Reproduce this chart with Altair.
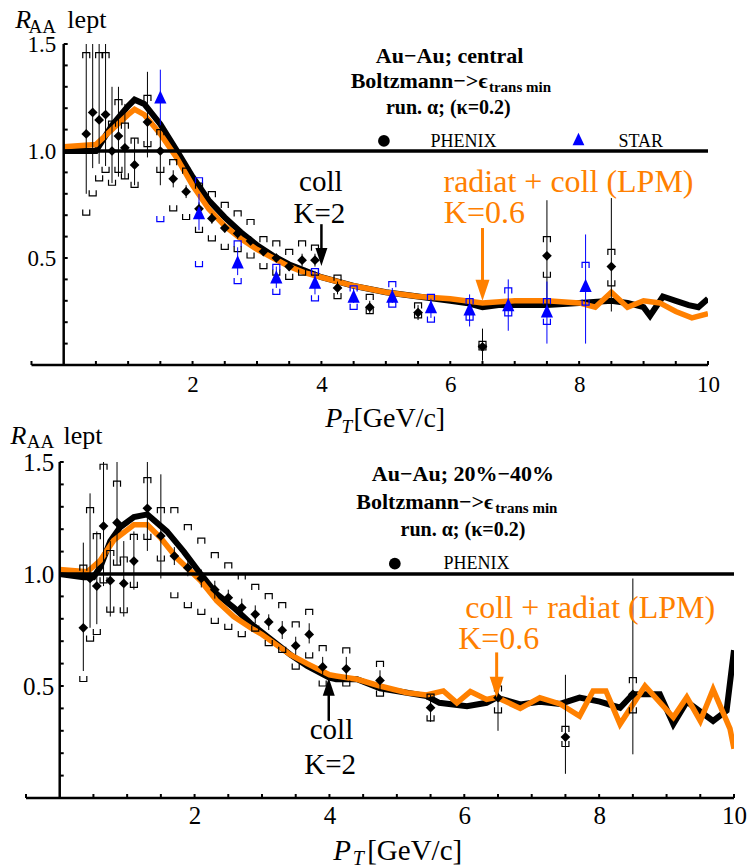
import altair as alt
import pandas as pd

SERIF = "Liberation Serif, Tinos, Times New Roman, Times, DejaVu Serif, serif"
ORANGE = "#FF8000"
BLUE = "#0000FF"

# ---------------- axes ----------------
X_TICKS = [-0.5, 0.5, 1.0, 1.5, 2.0, 2.5, 3.0, 3.5, 4.0, 4.5, 5.0, 5.5, 6.0, 6.5, 7.0,
           7.5, 8.0, 8.5, 9.0, 9.5, 10.0]
X_LABELS = [2, 4, 6, 8, 10]
Y_TICKS = [0.1, 0.2, 0.3, 0.4, 0.5, 0.6, 0.7, 0.8, 0.9, 1.0, 1.1, 1.2, 1.3, 1.4, 1.5]
Y_LABELS = [0.5, 1.0, 1.5]

# ---------------- top panel: Au-Au central ----------------
TOP_BLACK_X = [0.0, 0.5, 0.75, 1.0, 1.1, 1.25, 1.5, 1.76, 2.0, 2.25, 2.5, 2.75, 3.0, 3.25,
               3.5, 3.75, 4.0, 4.5, 5.0, 5.5, 6.0, 6.25, 6.5, 6.75, 7.0, 7.5, 8.0, 8.5,
               8.75, 9.0, 9.1, 9.3, 9.5, 9.7, 9.85, 10.0]
TOP_BLACK_Y = [1.0, 1.0, 1.12, 1.21, 1.24, 1.22, 1.125, 1.0, 0.88, 0.77, 0.69, 0.62, 0.56,
               0.51, 0.47, 0.44, 0.41, 0.37, 0.34, 0.32, 0.30, 0.29, 0.27, 0.28, 0.28, 0.28,
               0.29, 0.30, 0.29, 0.27, 0.23, 0.32, 0.30, 0.28, 0.27, 0.31]
TOP_ORANGE_X = [0.0, 0.5, 0.75, 1.0, 1.1, 1.25, 1.5, 1.75, 2.0, 2.25, 2.5, 2.75, 3.0, 3.25,
                3.5, 3.75, 4.0, 4.5, 5.0, 5.5, 6.0, 6.5, 7.0, 7.5, 8.0, 8.25, 8.5, 8.75,
                9.0, 9.25, 9.5, 9.75, 10.0]
TOP_ORANGE_Y = [1.02, 1.03, 1.10, 1.17, 1.195, 1.17, 1.08, 0.97, 0.84, 0.73, 0.65, 0.59,
                0.54, 0.50, 0.46, 0.43, 0.41, 0.37, 0.34, 0.32, 0.31, 0.29, 0.30, 0.30, 0.29,
                0.27, 0.34, 0.27, 0.30, 0.29, 0.25, 0.22, 0.24]

PHENIX_X = [0.35, 0.45, 0.55, 0.65, 0.75, 0.85, 0.95, 1.1, 1.3, 1.5, 1.7, 1.9, 2.1, 2.3,
            2.5, 2.7, 2.9, 3.1, 3.3, 3.5, 3.7, 3.9, 4.25, 4.75, 5.5, 6.5, 7.5, 8.5]
TOP_PHENIX_Y = [1.08, 1.18, 1.145, 1.17, 1.0, 1.07, 1.015, 0.935, 1.135, 1.0, 0.87, 0.81,
                0.73, 0.685, 0.64, 0.615, 0.58, 0.53, 0.50, 0.46, 0.49, 0.49, 0.36, 0.27,
                0.245, 0.085, 0.51, 0.46]
TOP_PHENIX_STAT_LO = [0.80, 0.92, 0.94, 0.93, 0.85, 0.88, 0.87, 0.84, 0.97, 0.84, 0.83, 0.78,
                      0.70, 0.66, 0.62, 0.59, 0.56, 0.51, 0.48, 0.44, 0.46, 0.46, 0.33, 0.24,
                      0.21, 0.02, 0.28, 0.25]
TOP_PHENIX_STAT_HI = [1.5, 1.5, 1.5, 1.5, 1.30, 1.30, 1.22, 1.06, 1.37, 1.14, 0.91, 0.84,
                      0.76, 0.71, 0.66, 0.64, 0.60, 0.55, 0.52, 0.48, 0.52, 0.52, 0.39, 0.30,
                      0.28, 0.17, 0.77, 0.78]
TOP_PHENIX_SYS_LO = [0.70, 0.79, 0.86, 0.90, 0.84, 0.90, 0.87, 0.83, 1.02, 0.90, 0.72, 0.68,
                     0.62, 0.58, 0.54, 0.53, 0.50, 0.45, 0.42, 0.40, 0.42, 0.42, 0.31, 0.24,
                     0.22, 0.07, 0.41, 0.37]
TOP_PHENIX_SYS_HI = [1.46, 1.57, 1.46, 1.46, 1.14, 1.24, 1.13, 1.06, 1.26, 1.10, 0.96, 0.92,
                     0.85, 0.81, 0.76, 0.72, 0.68, 0.60, 0.58, 0.54, 0.58, 0.56, 0.42, 0.33,
                     0.29, 0.11, 0.60, 0.54]

STAR_X = [1.5, 2.1, 2.7, 3.3, 3.9, 4.5, 5.1, 5.7, 6.3, 6.9, 7.5, 8.1]
STAR_Y = [1.25, 0.71, 0.48, 0.41, 0.385, 0.32, 0.32, 0.27, 0.26, 0.28, 0.25, 0.37]
STAR_STAT_LO = [1.12, 0.63, 0.42, 0.36, 0.33, 0.29, 0.29, 0.22, 0.18, 0.16, 0.10, 0.10]
STAR_STAT_HI = [1.38, 0.80, 0.55, 0.46, 0.44, 0.36, 0.36, 0.31, 0.33, 0.40, 0.39, 0.61]
STAR_SYS_LO = [0.67, 0.46, 0.38, 0.33, 0.30, 0.26, 0.27, 0.20, 0.21, 0.23, 0.19, 0.28]
STAR_SYS_HI = [1.55, 0.875, 0.58, 0.47, 0.45, 0.37, 0.39, 0.33, 0.31, 0.36, 0.31, 0.48]

# ---------------- bottom panel: Au-Au 20%-40% ----------------
BOT_BLACK_X = [0.0, 0.35, 0.5, 0.6, 0.75, 0.9, 1.1, 1.3, 1.59, 1.84, 2.09, 2.33, 2.58, 2.83,
               3.0, 3.42, 3.67, 4.0, 4.1, 4.41, 4.75, 5.15, 5.44, 5.63, 6.04, 6.33, 6.48,
               6.83, 7.12, 7.42, 7.71, 8.01, 8.31, 8.5, 8.9, 9.1, 9.3, 9.69, 9.89, 10.0]
BOT_BLACK_Y = [1.0, 0.985, 0.985, 1.03, 1.147, 1.21, 1.254, 1.266, 1.19, 1.10, 1.0, 0.91,
               0.85, 0.78, 0.74, 0.64, 0.59, 0.537, 0.53, 0.53, 0.49, 0.47, 0.455, 0.425,
               0.41, 0.425, 0.448, 0.418, 0.43, 0.42, 0.448, 0.43, 0.403, 0.463, 0.463, 0.33,
               0.43, 0.344, 0.39, 0.66]
BOT_ORANGE_X = [0.0, 0.41, 0.6, 0.8, 1.1, 1.3, 1.5, 1.74, 2.09, 2.33, 2.58, 2.83, 3.0, 3.42,
                3.67, 4.0, 4.1, 4.41, 4.75, 5.15, 5.44, 5.69, 5.89, 6.09, 6.33, 6.48, 6.83,
                7.12, 7.42, 7.71, 7.91, 8.1, 8.31, 8.68, 9.1, 9.3, 9.5, 9.69, 9.94, 10.0]
BOT_ORANGE_Y = [1.02, 1.01, 1.06, 1.15, 1.22, 1.22, 1.16, 1.07, 0.97, 0.88, 0.81, 0.76, 0.73,
                0.64, 0.60, 0.55, 0.545, 0.53, 0.50, 0.47, 0.46, 0.478, 0.425, 0.475, 0.44,
                0.45, 0.40, 0.448, 0.42, 0.366, 0.478, 0.478, 0.33, 0.50, 0.36, 0.45, 0.344,
                0.485, 0.31, 0.22]
BOT_PHENIX_Y = [0.76, 0.98, 0.946, 1.214, 0.97, 1.229, 0.958, 1.058, 1.293, 1.17, 1.08,
                1.028, 0.98, 0.93, 0.894, 0.85, 0.82, 0.786, 0.749, 0.68, 0.73, 0.585, 0.577,
                0.525, 0.403, 0.448, 0.272, 0.463]
BOT_PHENIX_STAT_LO = [0.567, 0.76, 0.776, 0.946, 0.81, 1.04, 0.81, 0.93, 1.103, 0.98, 1.04,
                      0.99, 0.94, 0.89, 0.86, 0.81, 0.78, 0.75, 0.71, 0.64, 0.69, 0.55, 0.53,
                      0.48, 0.34, 0.30, 0.108, 0.195]
BOT_PHENIX_STAT_HI = [1.14, 1.36, 1.19, 1.5, 1.147, 1.5, 1.147, 1.19, 1.5, 1.445, 1.12, 1.07,
                      1.02, 0.97, 0.93, 0.89, 0.86, 0.82, 0.79, 0.72, 0.78, 0.63, 0.63, 0.57,
                      0.46, 0.52, 0.55, 0.98]
BOT_PHENIX_SYS_LO = [0.52, 0.70, 0.73, 0.96, 0.83, 1.04, 0.827, 0.94, 1.155, 1.058, 0.894,
                     0.85, 0.82, 0.78, 0.753, 0.72, 0.745, 0.68, 0.65, 0.575, 0.626, 0.5, 0.5,
                     0.455, 0.344, 0.38, 0.23, 0.38]
BOT_PHENIX_SYS_HI = [1.04, 1.296, 1.18, 1.49, 1.105, 1.415, 1.076, 1.177, 1.43, 1.296, 1.296,
                     1.22, 1.16, 1.095, 1.05, 1.0, 0.954, 0.912, 0.872, 0.786, 0.842, 0.68,
                     0.67, 0.61, 0.464, 0.50, 0.32, 0.537]

# marker shapes (custom symbol paths)
CAP_TOP = "M-1,1.6L-1,0L1,0L1,1.6"
CAP_BOT = "M-1,-1.6L-1,0L1,0L1,-1.6"
TICK_UP = "M0,0L0,-1"
TICK_RIGHT = "M0,0L1,0"
HEAD_DOWN = "M0,0L-1,-3L1,-3Z"
HEAD_UP = "M0,0L-1,3L1,3Z"
TRI = "M0,-1.15L-1,1L1,1Z"


def panel(cfg):
    xs = alt.Scale(domain=cfg["xdom"], nice=False, zero=False)
    ys = alt.Scale(domain=[0.0, 1.5], nice=False, zero=False)
    xaxis = alt.Axis(values=X_LABELS, format="d", domain=False, ticks=False, grid=False,
                     title=None, labelFont=SERIF, labelFontSize=cfg["tfs"], labelColor="black",
                     labelPadding=cfg["xpad"], labelFlush=False, labelOverlap=False)
    yaxis = alt.Axis(values=Y_LABELS, format=".1f", domain=False, ticks=False, grid=False,
                     title=None, labelFont=SERIF, labelFontSize=cfg["tfs"], labelColor="black",
                     labelPadding=cfg["ypad"], offset=cfg["yoff"], labelFlush=False,
                     labelOverlap=False)

    def X(f):
        return alt.X(f, type="quantitative", scale=xs, axis=xaxis)

    def Y(f):
        return alt.Y(f, type="quantitative", scale=ys, axis=yaxis)

    L = []

    def text(x, y, s, fs, align="left", color="black", weight="normal", style="normal"):
        L.append(alt.Chart(pd.DataFrame({"x": [x], "y": [y], "t": [s]})).mark_text(
            font=SERIF, fontSize=fs, align=align, baseline="alphabetic", color=color,
            fontWeight=weight, fontStyle=style).encode(x=X("x"), y=Y("y"), text="t:N"))

    def rule(x0, x1, y0, y1, color, width):
        L.append(alt.Chart(pd.DataFrame({"x0": [x0], "x1": [x1], "y0": [y0], "y1": [y1]}))
                 .mark_rule(color=color, strokeWidth=width)
                 .encode(x=X("x0"), x2="x1", y=Y("y0"), y2="y1"))

    def points(xv, yv, shape, size, color, filled=True, sw=0.0, clip=False):
        L.append(alt.Chart(pd.DataFrame({"x": xv, "y": yv})).mark_point(
            shape=shape, size=size, color=color, filled=filled, opacity=1,
            strokeWidth=sw, clip=clip).encode(x=X("x"), y=Y("y")))

    def bars(xv, lo, hi, color, width):
        L.append(alt.Chart(pd.DataFrame({"x": xv, "lo": lo, "hi": hi})).mark_rule(
            color=color, strokeWidth=width, clip=True).encode(x=X("x"), y=Y("lo"), y2="hi"))

    def curve(xv, yv, color, width):
        L.append(alt.Chart(pd.DataFrame({"x": xv, "y": yv})).mark_line(
            color=color, strokeWidth=width, clip=True).encode(x=X("x"), y=Y("y")))

    if cfg.get("anchor"):
        ax, ay = cfg["anchor"]
        rule(ax, ax + 0.05, ay, ay, "white", 1)

    curve(cfg["black_x"], cfg["black_y"], "black", 6)
    curve(cfg["orange_x"], cfg["orange_y"], ORANGE, 5.5)
    rule(0.0, 10.0, 1.0, 1.0, "black", 3.5)

    # data: PHENIX (and STAR)
    bars(PHENIX_X, cfg["ph_stat_lo"], cfg["ph_stat_hi"], "black", 1)
    points(PHENIX_X, cfg["ph_sys_hi"], CAP_TOP, 49, "black", filled=False, sw=1.2, clip=True)
    points(PHENIX_X, cfg["ph_sys_lo"], CAP_BOT, 49, "black", filled=False, sw=1.2, clip=True)
    if cfg.get("star"):
        bars(STAR_X, STAR_STAT_LO, STAR_STAT_HI, BLUE, 1)
        points(STAR_X, STAR_SYS_HI, CAP_TOP, 49, BLUE, filled=False, sw=1.2, clip=True)
        points(STAR_X, STAR_SYS_LO, CAP_BOT, 49, BLUE, filled=False, sw=1.2, clip=True)
    points(PHENIX_X, cfg["ph_y"], "diamond", 95, "black")
    if cfg.get("star"):
        points(STAR_X, STAR_Y, TRI, 150, BLUE)

    # legend
    lg = cfg["legend"]
    points([lg["dot"][0]], [lg["dot"][1]], "circle", 137, "black")
    text(lg["phenix"][0], lg["phenix"][1], "PHENIX", 18)
    if "star" in lg:
        points([lg["tri"][0]], [lg["tri"][1]], TRI, 140, BLUE)
        text(lg["star"][0], lg["star"][1], "STAR", 18)

    # header text
    h = cfg["head"]
    text(h["l1"][0], h["l1"][1], h["title"], 22, align="center", weight="bold")
    text(h["l2"][0], h["l2"][1], "Boltzmann−>ϵ", 22, align="right", weight="bold")
    text(h["l2s"][0], h["l2s"][1], "trans min", 15, weight="bold")
    text(h["l3"][0], h["l3"][1], "run. α; (κ=0.2)", 20, align="center", weight="bold")

    # model annotations
    a = cfg["ann"]
    text(a["coll"][0], a["coll"][1], "coll", a["fs"], align="center")
    text(a["k2"][0], a["k2"][1], "K=2", a["fs"], align="center")
    text(a["rad"][0], a["rad"][1], a["rad_text"], a["ofs"], color=ORANGE)
    text(a["k06"][0], a["k06"][1], "K=0.6", a["ofs"], color=ORANGE)
    bx, by0, by1 = a["barrow"]
    rule(bx, bx, by0, by1, "black", 2.5)
    points([bx], [a["btip"]], a["bhead"], 144, "black")
    ox, oy0, oy1 = a["oarrow"]
    rule(ox, ox, oy0, oy1, ORANGE, 3)
    points([ox], [a["otip"]], HEAD_DOWN, 196, ORANGE)

    # axis titles
    t = cfg["titles"]
    text(t["R"][0], t["R"][1], "R", t["fs"], style="italic")
    text(t["AA"][0], t["AA"][1], "AA", t["sfs"])
    text(t["lept"][0], t["lept"][1], "lept", t["fs"])
    text(t["P"][0], t["P"][1], "P", t["pfs"], style="italic")
    text(t["T"][0], t["T"][1], "T", t["psfs"], style="italic")
    text(t["gev"][0], t["gev"][1], "[GeV/c]", t["pfs"])

    # axes lines and ticks
    rule(-0.5, 10.0, 0.0, 0.0, "black", 2.5)
    rule(0.0, 0.0, 0.0, 1.5, "black", 2.5)
    points(X_TICKS, [0.0] * len(X_TICKS), TICK_UP, 64, "black", filled=False, sw=2)
    points([0.0] * len(Y_TICKS), Y_TICKS, TICK_RIGHT, 64, "black", filled=False, sw=2)

    return alt.layer(*L).properties(width=cfg["w"], height=cfg["h"])


top_cfg = dict(
    xdom=[-0.585, 10.0], w=682, h=321, tfs=23, xpad=8, ypad=8, yoff=-37.7,
    anchor=(-0.975, 1.6986),
    black_x=TOP_BLACK_X, black_y=TOP_BLACK_Y, orange_x=TOP_ORANGE_X, orange_y=TOP_ORANGE_Y,
    ph_y=TOP_PHENIX_Y, ph_stat_lo=TOP_PHENIX_STAT_LO, ph_stat_hi=TOP_PHENIX_STAT_HI,
    ph_sys_lo=TOP_PHENIX_SYS_LO, ph_sys_hi=TOP_PHENIX_SYS_HI, star=True,
    legend=dict(dot=(4.97, 1.047), phenix=(5.694, 1.020), tri=(7.99, 1.054), star=(8.61, 1.020)),
    head=dict(title="Au−Au; central", l1=(5.99, 1.411), l2=(6.58, 1.294), l2s=(6.60, 1.278),
              l3=(5.97, 1.174)),
    ann=dict(fs=29, ofs=32, coll=(3.99, 0.813), k2=(3.97, 0.665),
             rad_text="radiat + coll (LPM)", rad=(5.895, 0.808), k06=(5.90, 0.664),
             barrow=(4.0, 0.658, 0.50), btip=0.463, bhead=HEAD_DOWN,
             oarrow=(6.5, 0.64, 0.35), otip=0.30),
    titles=dict(fs=26, sfs=19, pfs=28, psfs=19, R=(-0.75, 1.575), AA=(-0.545, 1.553),
                lept=(0.057, 1.575), P=(4.06, -0.29), T=(4.31, -0.318), gev=(4.497, -0.29)),
)

bot_cfg = dict(
    xdom=[-0.5, 10.0], w=708, h=336, tfs=25, xpad=5, ypad=6, yoff=-33.7,
    black_x=BOT_BLACK_X, black_y=BOT_BLACK_Y, orange_x=BOT_ORANGE_X, orange_y=BOT_ORANGE_Y,
    ph_y=BOT_PHENIX_Y, ph_stat_lo=BOT_PHENIX_STAT_LO, ph_stat_hi=BOT_PHENIX_STAT_HI,
    ph_sys_lo=BOT_PHENIX_SYS_LO, ph_sys_hi=BOT_PHENIX_SYS_HI, star=False,
    legend=dict(dot=(4.97, 1.046), phenix=(5.69, 1.022)),
    head=dict(title="Au−Au; 20%−40%", l1=(5.98, 1.415), l2=(6.43, 1.29), l2s=(6.46, 1.274),
              l3=(5.98, 1.17)),
    ann=dict(fs=29, ofs=32, coll=(4.03, 0.263), k2=(4.01, 0.107),
             rad_text="coll + radiat (LPM)", rad=(6.013, 0.804), k06=(5.91, 0.665),
             barrow=(3.99, 0.344, 0.50), btip=0.537, bhead=HEAD_UP,
             oarrow=(6.48, 0.65, 0.50), otip=0.447),
    titles=dict(fs=26, sfs=19, pfs=29, psfs=20, R=(-0.731, 1.58), AA=(-0.49, 1.5625),
                lept=(0.055, 1.58), P=(4.056, -0.279), T=(4.346, -0.30), gev=(4.56, -0.279)),
)

chart = alt.vconcat(panel(top_cfg), panel(bot_cfg), spacing=97, bounds="flush").properties(
    padding=0, background="white"
).configure_view(stroke=None)

chart.save("out.html", embed_options={"renderer": "svg", "actions": False})
